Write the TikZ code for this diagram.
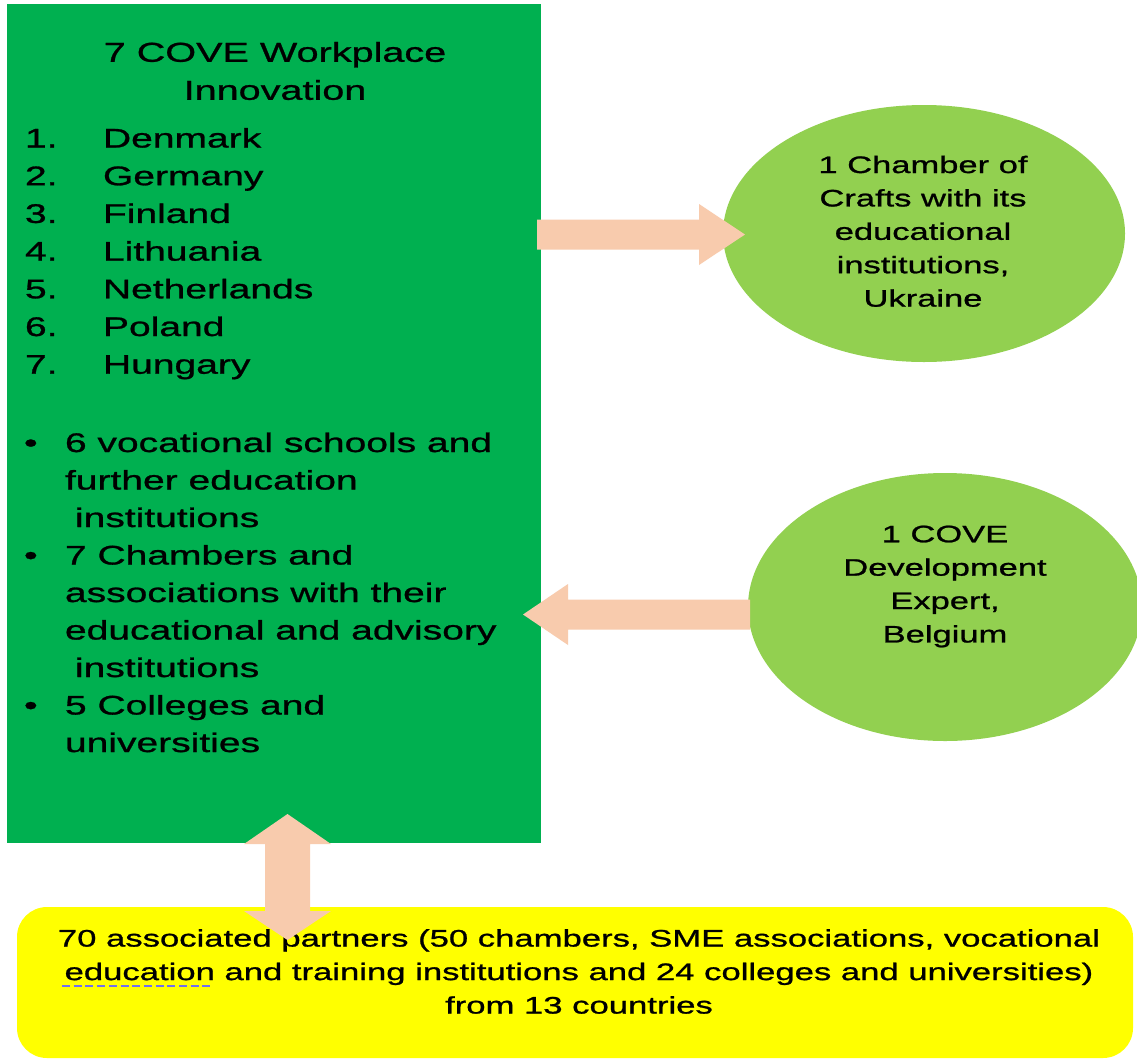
\documentclass[tikz,border=0pt]{standalone}
\usepackage{fontspec}
\setmainfont{Liberation Sans}
\newfontfamily\stfont[FakeStretch=1.45,FakeBold=1]{Liberation Sans}
\usetikzlibrary{shapes.geometric,calc}
\definecolor{boxgreen}{HTML}{00B050}
\definecolor{ovalgreen}{HTML}{92D050}
\definecolor{peach}{HTML}{F8CBAD}
\definecolor{boxyellow}{HTML}{FFFF00}
\definecolor{spell}{HTML}{7070F0}
\begin{document}
\begin{tikzpicture}[x=1pt,y=-1pt,
  every node/.style={inner sep=0pt, outer sep=0pt, text=black},
  gtext/.style={font=\stfont\fontsize{26.9}{37.6}\selectfont, anchor=base west},
  ttext/.style={font=\stfont\fontsize{27.3}{38}\selectfont, align=center},
  etext/.style={font=\stfont\fontsize{23.8}{33.4}\selectfont, align=center},
  ytext/.style={font=\stfont\fontsize{23.9}{33.5}\selectfont, align=center},
  blockarrow/.style={fill=peach, draw=none},
  oval/.style={ellipse, fill=ovalgreen, draw=none},
  spellmark/.style={draw=spell, line width=2.6pt, dash pattern=on 8pt off 3.7pt}
]
\fill[white] (0,0) rectangle (1137,1061);
\useasboundingbox (0,0) rectangle (1137,1061);

% shapes
\node[fill=boxgreen, minimum width=534pt, minimum height=839pt, anchor=north west] (cove) at (7,4) {};
\node[oval, minimum width=402pt, minimum height=257pt] (ukr) at (924,233.5) {};
\node[oval, minimum width=394pt, minimum height=268pt] (bel) at (945,607) {};
\node[fill=boxyellow, rounded corners=30pt, minimum width=1116pt, minimum height=151pt, anchor=north west] (partners) at (17,907) {};

% green box texts
\node[ttext] (title) at (275,71) {7 COVE Workplace\\Innovation};
\foreach \cname [count=\i] in {Denmark,Germany,Finland,Lithuania,Netherlands,Poland,Hungary}{
  \node[gtext] (num\i) at (25,{147.5+37.7*(\i-1)}) {\i.};
  \node[gtext] (country\i) at (103,{147.5+37.7*(\i-1)}) {\cname};
}
\node[gtext] (bullet1) at (24,452) {•};
\node[gtext] (b1a) at (65,452) {6 vocational schools and};
\node[gtext] (b1b) at (65,489.5) {further education};
\node[gtext] (b1c) at (75,527) {institutions};
\node[gtext] (bullet2) at (24,564.5) {•};
\node[gtext] (b2a) at (65,564.5) {7 Chambers and};
\node[gtext] (b2b) at (65,602) {associations with their};
\node[gtext] (b2c) at (65,639.5) {educational and advisory};
\node[gtext] (b2d) at (75,677) {institutions};
\node[gtext] (bullet3) at (24,714.5) {•};
\node[gtext] (b3a) at (65,714.5) {5 Colleges and};
\node[gtext] (b3b) at (65,752) {universities};

% ellipse texts
\node[etext] (ukrtext) at (923,231.3) {1 Chamber of\\Crafts with its\\educational\\institutions,\\Ukraine};
\node[etext] (beltext) at (945,586.5) {1 COVE\\Development\\Expert,\\Belgium};

% yellow text
\node[ytext] (ptext) at (579,971.5) {70 associated partners (50 chambers, SME associations, vocational\\education and training institutions and 24 colleges and universities)\\from 13 countries};
\coordinate (ul1) at (62,986);
\coordinate (ul2) at (213,986);
\draw[spellmark] (ul1) -- (ul2);

% block arrows
\coordinate (a1s) at (537,234.5);
\coordinate (a1t) at (745,234.5);
\fill[blockarrow] ($(a1s)+(0,-15)$) -- ($(a1t)+(-46,-15)$) -- ($(a1t)+(-46,-30.5)$) -- (a1t)
  -- ($(a1t)+(-46,30.5)$) -- ($(a1t)+(-46,15)$) -- ($(a1s)+(0,15)$) -- cycle;
\coordinate (a2s) at (750,614.5);
\coordinate (a2t) at (523,614.5);
\fill[blockarrow] ($(a2s)+(0,-15)$) -- ($(a2t)+(45,-15)$) -- ($(a2t)+(45,-30.5)$) -- (a2t)
  -- ($(a2t)+(45,30.5)$) -- ($(a2t)+(45,15)$) -- ($(a2s)+(0,15)$) -- cycle;
\coordinate (a3t) at (287.5,814);
\coordinate (a3b) at (287.5,940);
\fill[blockarrow] (a3t) -- ($(a3t)+(43.5,30)$) -- ($(a3t)+(22.5,30)$) -- ($(a3b)+(22.5,-29)$)
  -- ($(a3b)+(43.5,-29)$) -- (a3b) -- ($(a3b)+(-43.5,-29)$) -- ($(a3b)+(-22.5,-29)$)
  -- ($(a3t)+(-22.5,30)$) -- ($(a3t)+(-43.5,30)$) -- cycle;
\end{tikzpicture}
\end{document}
